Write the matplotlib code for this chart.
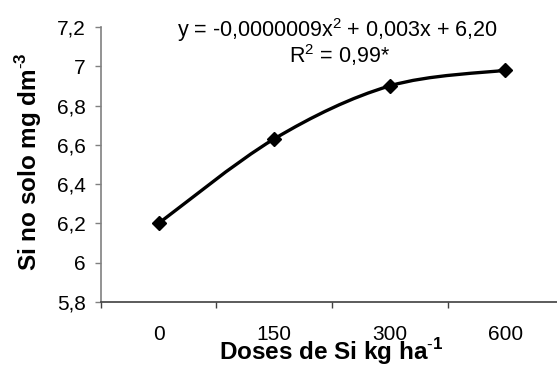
import numpy as np
import matplotlib.pyplot as plt
from matplotlib.path import Path
from matplotlib.patches import PathPatch

plt.rcParams['font.family'] = ['Liberation Sans', 'DejaVu Sans']
plt.rcParams['mathtext.fontset'] = 'custom'
plt.rcParams['mathtext.rm'] = 'Liberation Sans'
plt.rcParams['mathtext.bf'] = 'Liberation Sans:bold'

# data
doses = ['0', '150', '300', '600']
si_solo = [6.20, 6.63, 6.90, 6.98]
y_ticks = [5.8, 6.0, 6.2, 6.4, 6.6, 6.8, 7.0, 7.2]
y_labels = ['5,8', '6', '6,2', '6,4', '6,6', '6,8', '7', '7,2']
equation = r'y = -0,0000009x$^2$ + 0,003x + 6,20'
r2_text = r'R$^2$ = 0,99*'


def smooth_path(x, y):
    """Excel-like smoothed line as Bezier path through the points."""
    pts = np.column_stack([x, y]).astype(float)
    verts = [pts[0]]
    codes = [Path.MOVETO]
    n = len(pts)
    for i in range(n - 1):
        p0 = pts[i - 1] if i > 0 else pts[i]
        p1 = pts[i]
        p2 = pts[i + 1]
        p3 = pts[i + 2] if i + 2 < n else pts[i + 1]
        c1 = p1 + (p2 - p0) / 6.0
        c2 = p2 - (p3 - p1) / 6.0
        verts += [c1, c2, p2]
        codes += [Path.CURVE4] * 3
    return Path(verts, codes)


fig = plt.figure(figsize=(5.57, 3.65), dpi=100)
ax = fig.add_axes([0.181, 0.173, 0.83, 0.753])

xpos = np.arange(len(doses))
ax.add_patch(PathPatch(smooth_path(xpos, si_solo), facecolor='none',
                       edgecolor='black', lw=2.4, capstyle='round'))
ax.plot(xpos, si_solo, linestyle='none', marker='D', markersize=7,
        color='black')

ax.set_xlim(-0.5, len(doses) - 0.5)
ax.set_ylim(5.8, 7.2)
ax.set_yticks(y_ticks)
ax.set_yticklabels(y_labels, fontsize=15)
ax.set_xticks(xpos)
ax.set_xticklabels(doses, fontsize=15)
ax.set_xticks(np.arange(-0.5, len(doses), 1.0), minor=True)
ax.tick_params(axis='x', which='major', length=0, pad=17)
ax.tick_params(axis='x', which='minor', length=4, width=1, color='#404040')
ax.tick_params(axis='y', length=4, width=1, color='#808080', pad=7)

for s in ['top', 'right']:
    ax.spines[s].set_visible(False)
ax.spines['left'].set_color('#808080')
ax.spines['bottom'].set_color('#404040')
ax.spines['left'].set_linewidth(1.2)
ax.spines['bottom'].set_linewidth(1.2)

# axis titles placed on the figure to sit where the reference has them
fig.text(0.052, 0.556, r'Si no solo mg dm$^{\mathbf{\text{-}3}}$',
         fontsize=17.5, fontweight='bold', rotation=90,
         ha='center', va='center')
fig.text(0.595, 0.014, r'Doses de Si kg ha$^{\mathbf{\text{-}1}}$',
         fontsize=17.5, fontweight='bold', ha='center', va='baseline')

fig.text(0.605, 0.899, equation, fontsize=15.5, ha='center', va='baseline')
fig.text(0.61, 0.827, r2_text, fontsize=15.5, ha='center', va='baseline')

fig.savefig('out.png', dpi=100)
